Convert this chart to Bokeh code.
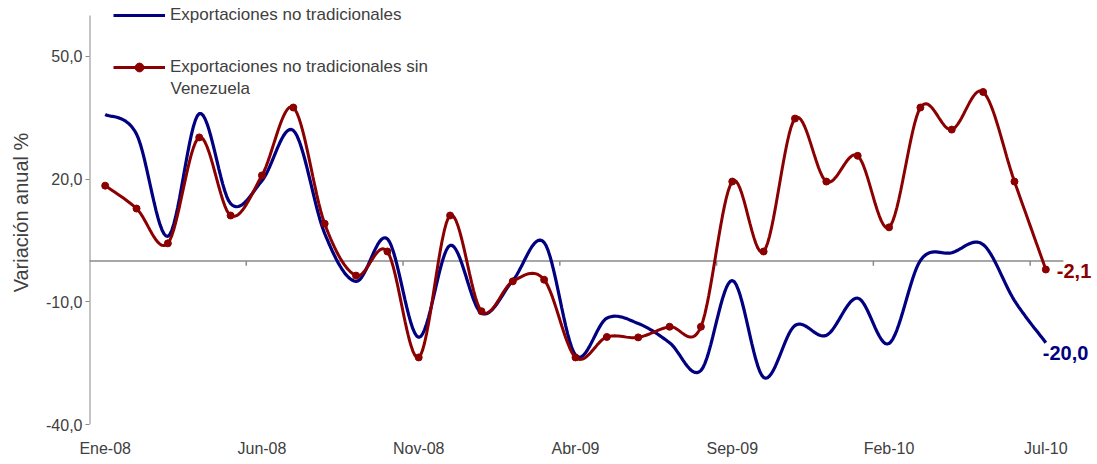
import numpy as np
from bokeh.plotting import figure
from bokeh.models import FixedTicker, Legend, LegendItem, Label
from bokeh.embed import file_html
from bokeh.resources import INLINE

# ---------------- data ----------------
months = ["Ene-08", "Feb-08", "Mar-08", "Abr-08", "May-08", "Jun-08", "Jul-08", "Ago-08",
          "Sep-08", "Oct-08", "Nov-08", "Dic-08", "Ene-09", "Feb-09", "Mar-09", "Abr-09",
          "May-09", "Jun-09", "Jul-09", "Ago-09", "Sep-09", "Oct-09", "Nov-09", "Dic-09",
          "Ene-10", "Feb-10", "Mar-10", "Abr-10", "May-10", "Jun-10", "Jul-10"]
no_tradicionales = [35.8, 31.0, 6.0, 36.0, 14.0, 19.6, 31.9, 6.7, -5.0, 5.4, -18.7, 3.8,
                    -12.8, -4.8, 4.5, -23.0, -14.0, -15.3, -20.0, -26.8, -4.8, -28.5, -15.8,
                    -18.2, -9.1, -20.2, 0.1, 2.0, 4.0, -9.7, -20.0]
sin_venezuela = [18.4, 12.8, 4.3, 30.2, 11.1, 20.9, 37.5, 9.1, -3.6, 2.3, -23.6, 11.1,
                 -12.3, -5.0, -4.6, -23.6, -18.6, -18.7, -16.1, -16.1, 19.4, 2.3, 34.8,
                 19.4, 25.7, 8.2, 37.5, 32.1, 41.3, 19.4, -2.1]
tick_labels = ["Ene-08", "Jun-08", "Nov-08", "Abr-09", "Sep-09", "Feb-10", "Jul-10"]
y_ticks = [-40, -10, 20, 50]
y_min, y_max = -40, 60
series_names = ["Exportaciones no tradicionales",
                "Exportaciones no tradicionales sin", "Venezuela"]

FONT = "Liberation Sans"
BLUE = "#000080"
RED = "#8b0000"
GRAY = "#8a8a8a"
TXT = "#404040"


def smooth(values, n=16):
    """Excel-like smoothed line (Catmull-Rom Bezier) through the data points."""
    pts = np.column_stack([np.arange(len(values), dtype=float), np.asarray(values, float)])
    N = len(pts)
    out = []
    t = np.linspace(0, 1, n, endpoint=False)[:, None]
    for i in range(N - 1):
        p0 = pts[max(i - 1, 0)]
        p1 = pts[i]
        p2 = pts[i + 1]
        p3 = pts[min(i + 2, N - 1)]
        c1 = p1 + (p2 - p0) / 6.0
        c2 = p2 - (p3 - p1) / 6.0
        seg = ((1 - t) ** 3) * p1 + 3 * ((1 - t) ** 2) * t * c1 + 3 * (1 - t) * t ** 2 * c2 + t ** 3 * p2
        out.append(seg)
    out.append(pts[-1][None, :])
    arr = np.vstack(out)
    return arr[:, 0], arr[:, 1]


x_idx = list(range(len(months)))
x_lo = -0.5
x_hi = len(months) - 0.5
# plot area: 972 px for the categories, 409 px for the value range;
# the frame is extended to the right and top edges so texts are not clipped
FRAME_W, FRAME_H = 1008, 424
px_per_cat = 972 / len(months)
px_per_val = 409 / (y_max - y_min)
x_end = x_lo + FRAME_W / px_per_cat
y_end = y_min + FRAME_H / px_per_val

p = figure(frame_width=FRAME_W, frame_height=FRAME_H, output_backend="svg", toolbar_location=None,
           x_range=(x_lo, x_end), y_range=(y_min, y_end),
           min_border_left=89, min_border_right=0, min_border_top=0, min_border_bottom=40)
p.outline_line_color = None
p.xgrid.grid_line_color = None
p.ygrid.grid_line_color = None
p.background_fill_color = "white"

# value axis line (only over the value range)
p.segment(x0=[x_lo], y0=[y_min], x1=[x_lo], y1=[y_max], line_color=GRAY, line_width=2)
# zero (category) axis line with tick marks at category boundaries
p.segment(x0=[x_lo], y0=[0], x1=[x_hi + 0.06], y1=[0], line_color=GRAY, line_width=1.5)
bounds = [months.index(l) - 0.5 for l in tick_labels if months.index(l) > 0]
p.segment(x0=bounds, y0=[0] * len(bounds), x1=bounds, y1=[-1.2] * len(bounds),
          line_color=GRAY, line_width=1.5)

bx, by = smooth(no_tradicionales)
rx, ry = smooth(sin_venezuela)
blue_line = p.line(bx, by, line_color=BLUE, line_width=3.2)
red_line = p.line(rx, ry, line_color=RED, line_width=3.0)
red_pts = p.scatter(x_idx, sin_venezuela, marker="circle", size=7, fill_color=RED, line_color=RED)

# axes
yax = p.yaxis[0]
yax.ticker = FixedTicker(ticks=y_ticks)
yax.major_label_overrides = {v: f"{v:.1f}".replace(".", ",") for v in y_ticks}
yax.minor_tick_line_color = None
yax.major_tick_out = 4
yax.major_tick_in = 0
yax.axis_line_color = None
yax.major_tick_line_color = GRAY
yax.major_label_text_font = FONT
yax.major_label_text_font_size = "16px"
yax.major_label_text_color = TXT
yax.major_label_standoff = 3
yax.axis_label = "Variación anual %"
yax.axis_label_text_font = FONT
yax.axis_label_text_font_size = "20px"
yax.axis_label_text_font_style = "normal"
yax.axis_label_text_color = TXT
yax.axis_label_standoff = 11

xax = p.xaxis[0]
xax.ticker = FixedTicker(ticks=[months.index(l) for l in tick_labels])
xax.major_label_overrides = {months.index(l): l for l in tick_labels}
xax.axis_line_color = None
xax.major_tick_line_color = None
xax.major_tick_out = 0
xax.major_tick_in = 0
xax.minor_tick_line_color = None
xax.major_label_standoff = 15
xax.major_label_text_font = FONT
xax.major_label_text_font_size = "16px"
xax.major_label_text_color = TXT

# end labels
for vals, col, xo, yo in [(sin_venezuela, RED, 11, -2), (no_tradicionales, BLUE, -3, -10)]:
    p.add_layout(Label(x=len(vals) - 1, y=vals[-1], text=f"{vals[-1]:.1f}".replace(".", ","),
                       x_offset=xo, y_offset=yo, text_color=col, text_font=FONT,
                       text_font_size="20px", text_font_style="bold", text_baseline="middle"))

legend = Legend(items=[LegendItem(label=series_names[0], renderers=[blue_line]),
                       LegendItem(label=series_names[1], renderers=[red_line, red_pts])],
                location=(24, 346), orientation="vertical",
                background_fill_alpha=0, border_line_color=None, padding=0, margin=0,
                spacing=30, glyph_width=52, glyph_height=22, label_height=22,
                label_standoff=5, label_text_font=FONT, label_text_font_size="17px",
                label_text_color=TXT, label_text_baseline="middle")
p.add_layout(legend)
p.add_layout(Label(x=81, y=336, x_units="screen", y_units="screen", text=series_names[2],
                   text_font=FONT, text_font_size="17px", text_color=TXT, text_baseline="middle"))

open("out.html", "w").write(file_html(p, INLINE))
